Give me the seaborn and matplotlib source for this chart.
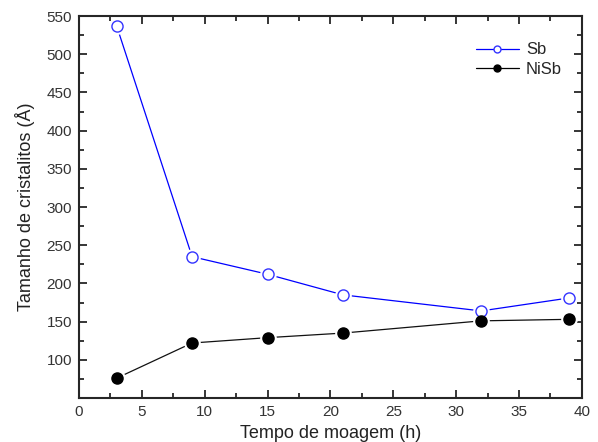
import numpy as np
import pandas as pd
import matplotlib
matplotlib.use('Agg')
import matplotlib.pyplot as plt
from matplotlib.ticker import MultipleLocator
from matplotlib.lines import Line2D
import seaborn as sns

sns.set_style("ticks")
plt.rcParams['font.family'] = ['Liberation Sans', 'DejaVu Sans']

# Data
tempo = [3, 9, 15, 21, 32, 39]
sb = [537, 235, 212, 185, 164, 181]
nisb = [76, 122, 129, 135, 151, 153]

df = pd.DataFrame({'t': tempo * 2,
                   'size': sb + nisb,
                   'fase': ['Sb'] * len(tempo) + ['NiSb'] * len(tempo)})

fig = plt.figure(figsize=(5.98, 4.42), dpi=100)
ax = fig.add_axes([0.132, 0.0995, 0.841, 0.8643])

styles = {'Sb': dict(color='#0000ff', mfc='white', mec='#3333ff'),
          'NiSb': dict(color='#111111', mfc='black', mec='black')}

for fase in ['Sb', 'NiSb']:
    sub = df[df.fase == fase]
    st = styles[fase]
    sns.lineplot(data=sub, x='t', y='size', ax=ax, color=st['color'], lw=0.9,
                 legend=False)
    # white halo gives the gap between line and marker
    ax.plot(sub.t, sub['size'], ls='none', marker='o', ms=11, mfc='white',
            mec='white', zorder=3)
    ax.plot(sub.t, sub['size'], ls='none', marker='o', ms=8, mfc=st['mfc'],
            mec=st['mec'], mew=1.0, zorder=4)

handles = [Line2D([], [], color='#0000ff', lw=0.9, marker='o', ms=5, mfc='white', mec='#3333ff'),
           Line2D([], [], color='black', lw=0.9, marker='o', ms=5, mfc='black', mec='black')]
ax.legend(handles, ['Sb', 'NiSb'], loc='upper right', frameon=False, fontsize=12,
          handlelength=2.6, handletextpad=0.4, bbox_to_anchor=(0.99, 0.97),
          labelspacing=0.25)

ax.set_xlim(0, 40)
ax.set_ylim(50, 550)
ax.xaxis.set_major_locator(MultipleLocator(5))
ax.xaxis.set_minor_locator(MultipleLocator(2.5))
ax.yaxis.set_major_locator(MultipleLocator(50))
ax.yaxis.set_minor_locator(MultipleLocator(25))
ax.set_yticks(np.arange(100, 551, 50))
ax.tick_params(which='both', direction='in', top=True, right=True, width=1.1,
               labelsize=11, colors='black', labelcolor='#333333', pad=5)
ax.tick_params(which='major', length=6)
ax.tick_params(which='minor', length=3.5)
for s in ax.spines.values():
    s.set_linewidth(1.5)
    s.set_visible(True)

ax.set_xlabel('Tempo de moagem (h)', fontsize=13, color='#222222')
ax.set_ylabel('Tamanho de cristalitos (Å)', fontsize=13, color='#222222', labelpad=8)

fig.savefig('out.png', dpi=100)
